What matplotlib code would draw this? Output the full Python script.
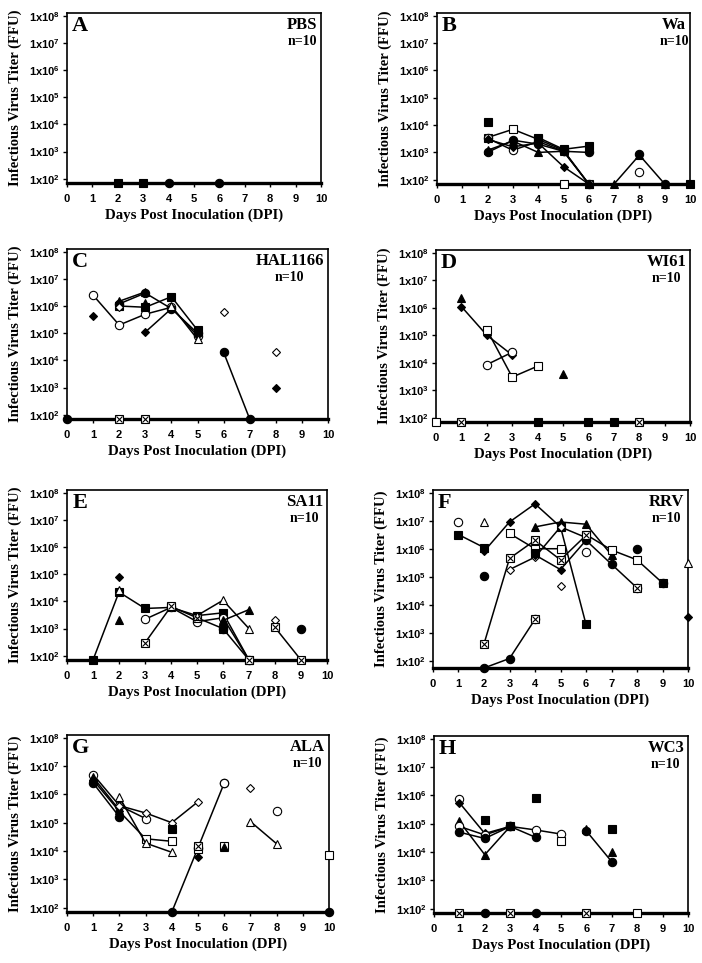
import numpy as np
import matplotlib.pyplot as plt

plt.rcParams['mathtext.fontset'] = 'custom'
plt.rcParams['mathtext.bf'] = 'Liberation Sans:bold'
plt.rcParams['mathtext.rm'] = 'Liberation Sans:bold'

LOD = 70      # detection limit, plotted on the x axis
LOD_F = 55

# animal symbols: fc/oc filled/open circle, fs/os filled/open square,
# ft/ot filled/open triangle, fd/od filled/open diamond, xs crossed square
a_series = [
    ('fs', [2, 3], [LOD, LOD]),
    ('fc', [4], [LOD]),
    ('fc', [6], [LOD]),
]

b_series = [
    ('os', [2, 3, 4, 5, 6], [3.5e3, 7.0e3, 3.0e3, 1.2e3, LOD]),
    ('oc', [2, 3, 4, 5, 6], [3.3e3, 1.2e3, 2.5e3, 1.1e3, LOD]),
    ('fc', [2, 3, 4, 5, 6], [1.0e3, 2.8e3, 2.0e3, 1.1e3, 1.0e3]),
    ('ft', [2, 3, 4, 5, 6, 7, 8, 9], [1.2e3, 2.6e3, 1.0e3, 1.1e3, LOD, LOD, 8.0e2, LOD]),
    ('fd', [2, 3, 4, 5, 6], [3.0e3, 1.6e3, 2.2e3, 3.0e2, LOD]),
    ('fs', [4, 5, 6], [3.5e3, 1.3e3, 1.7e3]),
    ('fs', [2], [1.3e4]),
    ('os', [5], [LOD]),
    ('oc', [8], [2.0e2]),
    ('fc', [8], [9.0e2]),
    ('fc', [9], [LOD]),
    ('fs', [10], [LOD]),
]

c_series = [
    ('fc', [0], [LOD]),
    ('oc', [1, 2, 3, 4, 5], [2.5e6, 2.0e5, 5.0e5, 9.0e5, 8.0e4]),
    ('fd', [1], [4.2e5]),
    ('fc', [2, 3, 4, 5], [1.2e6, 3.0e6, 8.0e5, 1.0e5]),
    ('ft', [2, 3], [1.5e6, 3.3e6]),
    ('fs', [2, 3, 4, 5], [1.0e6, 9.0e5, 2.2e6, 1.3e5]),
    ('od', [2], [9.0e5]),
    ('ft', [3], [1.3e6]),
    ('fd', [3, 4], [1.1e5, 8.0e5]),
    ('ot', [4, 5], [1.0e6, 6.0e4]),
    ('od', [6], [6.0e5]),
    ('fc', [6, 7], [2.0e4, LOD]),
    ('od', [8], [2.0e4]),
    ('fd', [8], [1.0e3]),
    ('xs', [2], [LOD]),
    ('xs', [3], [LOD]),
]

d_series = [
    ('ft', [1], [2.2e6]),
    ('fd', [1, 2, 3], [1.1e6, 1.0e5, 1.9e4]),
    ('os', [2, 3, 4], [1.6e5, 3.0e3, 7.5e3]),
    ('oc', [2, 3], [8.5e3, 2.4e4]),
    ('ft', [5], [4.0e3]),
    ('os', [0], [LOD]),
    ('xs', [1], [LOD]),
    ('fs', [4], [LOD]),
    ('fs', [6], [LOD]),
    ('fs', [7], [LOD]),
    ('xs', [8], [LOD]),
]

e_series = [
    ('fs', [1, 2, 3, 4, 5, 6, 7], [LOD, 2.2e4, 5.5e3, 6.0e3, 3.0e3, 3.8e3, LOD]),
    ('fd', [2], [8.0e4]),
    ('ot', [2], [2.6e4]),
    ('ft', [2], [2.0e3]),
    ('oc', [3, 4, 5, 6, 7], [2.2e3, 6.0e3, 1.8e3, 2.5e3, LOD]),
    ('xs', [3, 4, 5, 6, 7], [3.0e2, 6.5e3, 2.5e3, 1.0e3, LOD]),
    ('fc', [6], [1.0e3]),
    ('ot', [5, 6, 7], [3.0e3, 1.1e4, 1.0e3]),
    ('ft', [6, 7], [2.0e3, 5.0e3]),
    ('od', [8], [2.1e3]),
    ('xs', [8, 9], [1.1e3, LOD]),
    ('fc', [9], [1.0e3]),
]

f_series = [
    ('oc', [1], [9.0e6]),
    ('fs', [1, 2], [3.2e6, 1.1e6]),
    ('ot', [2], [9.0e6]),
    ('fc', [2], [1.1e5]),
    ('fd', [2, 3, 4, 5, 6], [8.0e5, 9.0e6, 4.0e7, 6.0e6, 2.0e3]),
    ('fs', [5], [6.0e6]),
    ('fs', [6], [2.0e3]),
    ('xs', [2, 3, 4, 5, 6], [4.0e2, 4.5e5, 2.0e6, 4.0e5, 3.0e6]),
    ('fc', [2, 3, 4], [LOD_F, 1.2e2, 3.0e3]),
    ('xs', [4], [3.0e3]),
    ('ft', [4, 5, 6, 7], [6.0e6, 9.0e6, 7.5e6, 6.0e5]),
    ('os', [3, 4, 5], [3.5e6, 1.0e6, 1.0e6]),
    ('od', [3, 4, 5, 6], [1.8e5, 5.0e5, 6.0e6, 2.5e6]),
    ('fd', [4, 5, 6], [6.0e5, 1.8e5, 2.0e6]),
    ('fs', [4], [7.0e5]),
    ('fc', [6, 7, 8], [2.0e6, 2.8e5, 4.0e4]),
    ('xs', [8], [4.0e4]),
    ('os', [6, 7, 8, 9], [3.2e6, 9.0e5, 4.0e5, 6.0e4]),
    ('fc', [9], [6.0e4]),
    ('fc', [8], [9.5e5]),
    ('od', [5], [4.5e4]),
    ('oc', [6], [7.5e5]),
    ('ot', [10], [3.2e5]),
    ('fd', [10], [3.5e3]),
]

g_series = [
    ('oc', [1, 2, 3], [5.0e6, 4.0e5, 1.4e5]),
    ('ft', [1, 2], [4.0e6, 2.8e5]),
    ('fc', [1, 2], [2.5e6, 1.6e5]),
    ('fd', [1, 2, 3], [3.2e6, 2.5e5, 2.7e4]),
    ('os', [3, 4], [2.7e4, 2.2e4]),
    ('ot', [2, 3, 4], [8.0e5, 1.9e4, 9.0e3]),
    ('od', [2, 3, 4, 5], [4.0e5, 2.2e5, 1.0e5, 5.5e5]),
    ('fs', [4], [6.0e4]),
    ('fc', [4, 5, 6], [LOD, 1.3e4, 2.5e6]),
    ('oc', [6], [2.5e6]),
    ('os', [5], [1.2e4]),
    ('xs', [5], [1.5e4]),
    ('fd', [5], [6.0e3]),
    ('os', [6], [1.5e4]),
    ('ft', [6], [1.4e4]),
    ('od', [7], [1.7e6]),
    ('ot', [7, 8], [1.1e5, 1.8e4]),
    ('oc', [8], [2.6e5]),
    ('os', [10], [7.0e3]),
    ('fc', [10], [LOD]),
]

h_series = [
    ('oc', [1], [7.5e5]),
    ('fd', [1, 2, 3], [5.5e5, 4.5e4, 8.0e4]),
    ('ft', [1, 2, 3], [1.2e5, 8.0e3, 8.0e4]),
    ('oc', [1, 2, 3, 4, 5], [8.0e4, 4.0e4, 8.0e4, 6.0e4, 4.3e4]),
    ('fc', [1, 2, 3, 4], [5.0e4, 3.0e4, 8.0e4, 3.3e4]),
    ('fs', [2], [1.3e5]),
    ('fs', [3], [8.0e4]),
    ('fs', [4], [8.0e5]),
    ('os', [5], [2.5e4]),
    ('ft', [6], [6.5e4]),
    ('fc', [6, 7], [5.5e4, 4.5e3]),
    ('fs', [7], [6.5e4]),
    ('ft', [7], [1.0e4]),
    ('xs', [1], [LOD]),
    ('fc', [2], [LOD]),
    ('xs', [3], [LOD]),
    ('fc', [4], [LOD]),
    ('xs', [6], [LOD]),
    ('os', [8], [LOD]),
]

letters = ['A', 'B', 'C', 'D', 'E', 'F', 'G', 'H']
strains = ['PBS', 'Wa', 'HAL1166', 'WI61', 'SA11', 'RRV', 'ALA', 'WC3']
all_series = [a_series, b_series, c_series, d_series, e_series, f_series, g_series, h_series]
limits = [LOD, LOD, LOD, LOD, LOD, LOD_F, LOD, LOD]

# axes boxes in pixels: left, right, top, bottom
boxes = [(67, 321, 13, 183), (437, 690, 13, 184),
         (67, 328, 249, 419), (436, 690, 250, 422),
         (67, 327, 490, 660), (433, 688, 490, 668),
         (67, 329, 735, 912), (434, 688, 736, 913)]

MARK = {
    'fc': ('o', 'black', 6.0), 'oc': ('o', 'white', 6.0),
    'fs': ('s', 'black', 5.5), 'os': ('s', 'white', 5.5),
    'ft': ('^', 'black', 6.0), 'ot': ('^', 'white', 6.0),
    'fd': ('D', 'black', 4.0), 'od': ('D', 'white', 4.0),
    'xs': ('s', 'white', 5.5),
}

W, H = 702, 963
fig = plt.figure(figsize=(W / 100, H / 100), dpi=100)
serif = 'Liberation Serif'
sans = 'Liberation Sans'

for letter, strain, series, lo, (x0, x1, y0, y1) in zip(letters, strains, all_series, limits, boxes):
    ax = fig.add_axes([x0 / W, 1 - y1 / H, (x1 - x0) / W, (y1 - y0) / H])
    ax.set_yscale('log')
    ax.set_xlim(0, 10)
    ax.set_ylim(lo, 1.25e8)

    for sym, days, titer in series:
        m, fc, ms = MARK[sym]
        ax.plot(days, titer, color='black', lw=1.1, marker=m, mfc=fc, mec='black',
                ms=ms, mew=0.8, clip_on=False, zorder=3)
        if sym == 'xs':
            ax.plot(days, titer, ls='none', marker='x', color='black', ms=4.2,
                    mew=0.8, clip_on=False, zorder=4)

    ax.set_yticks([10.0 ** k for k in range(2, 9)])
    ax.set_yticklabels([r'1x10$^{\mathbf{%d}}$' % k for k in range(2, 9)])
    ax.yaxis.set_minor_locator(plt.NullLocator())
    ax.set_xticks(range(11))
    ax.tick_params(direction='out', length=3, width=1, labelsize=8, pad=2)
    ax.tick_params(axis='x', pad=5)
    for lab in ax.get_xticklabels() + ax.get_yticklabels():
        lab.set_fontfamily(sans)
        lab.set_fontweight('bold')

    for s in ['top', 'right', 'left']:
        ax.spines[s].set_linewidth(1.2)
    ax.spines['bottom'].set_linewidth(2.4)

    ax.set_xlabel('Days Post Inoculation (DPI)', fontfamily=serif, fontweight='bold',
                  fontsize=10.7, labelpad=3)
    ax.set_ylabel('Infectious Virus Titer (FFU)', fontfamily=serif, fontweight='bold',
                  fontsize=10.5, labelpad=5)

    ax.text(0.02, 0.985, letter, transform=ax.transAxes, ha='left', va='top',
            fontfamily=serif, fontweight='bold', fontsize=16)
    t = ax.text(0.985, 0.975, strain, transform=ax.transAxes, ha='right', va='top',
                fontfamily=serif, fontweight='bold', fontsize=12)
    ax.annotate('n=10', xy=(0.5, 0), xycoords=t, ha='center', va='top',
                xytext=(0, -1), textcoords='offset points',
                fontfamily=serif, fontweight='bold', fontsize=10)

fig.savefig('out.png', dpi=100)
